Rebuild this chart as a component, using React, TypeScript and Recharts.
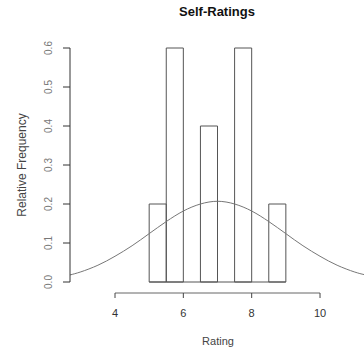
import React from 'react';
import { ComposedChart, Line, XAxis, YAxis, ReferenceArea, ReferenceLine, Label } from 'recharts';

// Histogram bins (Rating) and their relative frequency (density)
const binStarts = [5, 5.5, 6, 6.5, 7, 7.5, 8, 8.5];
const binEnds = [5.5, 6, 6.5, 7, 7.5, 8, 8.5, 9];
const binDensity = [0.2, 0.6, 0, 0.4, 0, 0.6, 0, 0.2];

// Density curve
const curveX = [2.68, 3, 3.5, 4, 4.5, 5, 5.5, 6, 6.5, 7, 7.5, 8, 8.5, 9, 9.5, 10, 10.5, 11, 11.29];
const curveY = [0.018, 0.026, 0.043, 0.066, 0.093, 0.124, 0.155, 0.182, 0.2, 0.207, 0.2, 0.182, 0.155, 0.124, 0.093, 0.066, 0.043, 0.026, 0.019];

const xTicks = [4, 6, 8, 10];
const yTicks = [0, 0.1, 0.2, 0.3, 0.4, 0.5, 0.6];
const yTickLabels = ['0.0', '0.1', '0.2', '0.3', '0.4', '0.5', '0.6'];

const title = 'Self-Ratings';
const xTitle = 'Rating';
const yTitle = 'Relative Frequency';

const curveData = curveX.map((x, i) => ({ x, y: curveY[i] }));

const FONT = '"Liberation Sans", Arial, Helvetica, sans-serif';
const AXIS_Y_PX = 293; // x-axis line is drawn a bit below the zero line, R-style
const PLOT_BOTTOM = 282;
const PX_PER_UNIT_Y = 390; // pixels per 1.0 of density
const axisOffset = -(AXIS_Y_PX - PLOT_BOTTOM) / PX_PER_UNIT_Y;

const XTick = (props: any) => {
  const { x, payload } = props;
  return (
    <g>
      <line x1={x} x2={x} y1={AXIS_Y_PX} y2={AXIS_Y_PX + 5} stroke="#444" strokeWidth={1} />
      <text x={x} y={313} textAnchor="middle" dominantBaseline="central" fontSize={11} fill="#333" fontFamily={FONT}>
        {payload.value}
      </text>
    </g>
  );
};

const YTick = (props: any) => {
  const { y, payload, index } = props;
  const lx = 48;
  return (
    <text
      x={lx}
      y={y}
      transform={`rotate(-90, ${lx}, ${y})`}
      textAnchor="middle"
      dominantBaseline="central"
      fontSize={10}
      fill="#777"
      fontFamily={FONT}
    >
      {yTickLabels[index] ?? payload.value}
    </text>
  );
};

export default function App() {
  return (
    <div style={{ position: 'absolute', left: 0, top: 0, width: 364, height: 351, background: '#fff', fontFamily: FONT }}>
      <div
        style={{
          position: 'absolute',
          left: 0,
          width: 434,
          top: 4,
          textAlign: 'center',
          fontWeight: 'bold',
          fontSize: 13,
          color: '#111',
        }}
      >
        {title}
      </div>
      <ComposedChart
        width={364}
        height={351}
        data={curveData}
        margin={{ top: 48, right: 0, bottom: 0, left: 0 }}
      >
        <XAxis
          type="number"
          dataKey="x"
          domain={[2.683, 11.287]}
          allowDataOverflow
          ticks={xTicks}
          axisLine={false}
          tickLine={false}
          tick={<XTick />}
          height={69}
          interval={0}
        >
          <Label
            content={() => (
              <text x={218} y={341} textAnchor="middle" dominantBaseline="central" fontSize={11} fill="#444" fontFamily={FONT}>
                {xTitle}
              </text>
            )}
          />
        </XAxis>
        <YAxis
          type="number"
          domain={[0, 0.6]}
          allowDataOverflow
          ticks={yTicks}
          width={70}
          tickSize={7}
          axisLine={{ stroke: '#333', strokeWidth: 1 }}
          tickLine={{ stroke: '#333', strokeWidth: 1 }}
          tick={<YTick />}
          interval={0}
        >
          <Label
            content={() => (
              <text
                x={22}
                y={165}
                transform="rotate(-90, 22, 165)"
                textAnchor="middle"
                dominantBaseline="central"
                fontSize={12}
                fill="#444"
                fontFamily={FONT}
              >
                {yTitle}
              </text>
            )}
          />
        </YAxis>
        {binStarts.map((s, i) => (
          <ReferenceArea
            key={i}
            x1={s}
            x2={binEnds[i]}
            y1={0}
            y2={binDensity[i]}
            fill="none"
            fillOpacity={0}
            stroke="#555"
            strokeWidth={1}
            strokeOpacity={1}
          />
        ))}
        <ReferenceLine
          segment={[
            { x: binStarts[0], y: 0 },
            { x: binEnds[binEnds.length - 1], y: 0 },
          ]}
          stroke="#555"
          strokeWidth={1}
        />
        <ReferenceLine
          segment={[
            { x: xTicks[0], y: axisOffset },
            { x: xTicks[xTicks.length - 1], y: axisOffset },
          ]}
          stroke="#666"
          strokeWidth={1}
          ifOverflow="visible"
        />
        <Line
          type="natural"
          dataKey="y"
          stroke="#777"
          strokeWidth={1}
          dot={false}
          isAnimationActive={false}
        />
      </ComposedChart>
    </div>
  );
}
